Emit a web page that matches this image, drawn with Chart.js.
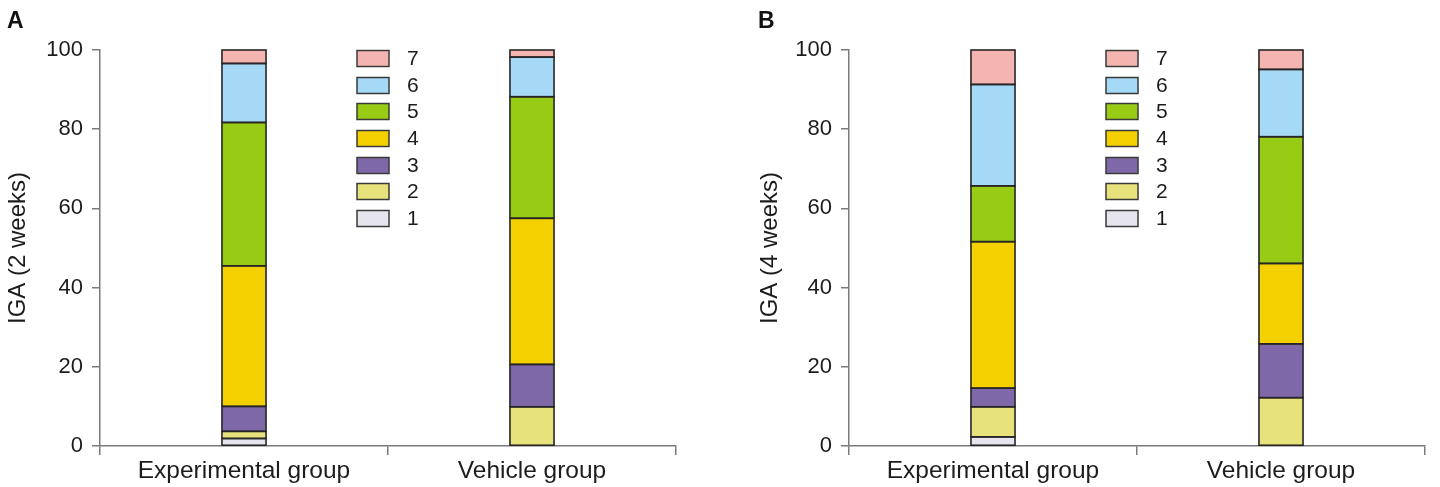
<!DOCTYPE html>
<html><head><meta charset="utf-8">
<script src="https://cdn.jsdelivr.net/npm/chart.js@4/dist/chart.umd.min.js"></script>
<style>
html,body{margin:0;padding:0;background:#fff;width:1440px;height:487px;overflow:hidden}
canvas{position:absolute;top:0}
#cA{left:0}
#cB{left:752px}
</style></head><body>
<canvas id="cA" width="700" height="487"></canvas>
<canvas id="cB" width="688" height="487"></canvas>
<script>
// ---- data ----
const categories = ['Experimental group', 'Vehicle group'];
const igaLevels = ['1', '2', '3', '4', '5', '6', '7'];
const yTicks = [0, 20, 40, 60, 80, 100];

// IGA at 2 weeks (percent of patients), [Experimental, Vehicle]
const week2Level1 = [1.9, 0];
const week2Level2 = [1.8, 9.9];
const week2Level3 = [6.3, 10.7];
const week2Level4 = [35.5, 36.9];
const week2Level5 = [36.2, 30.7];
const week2Level6 = [14.9, 10.0];
const week2Level7 = [3.4, 1.8];

// IGA at 4 weeks (percent of patients), [Experimental, Vehicle]
const week4Level1 = [2.3, 0];
const week4Level2 = [7.6, 12.2];
const week4Level3 = [4.7, 13.6];
const week4Level4 = [37.0, 20.3];
const week4Level5 = [14.1, 32.0];
const week4Level6 = [25.6, 17.0];
const week4Level7 = [8.7, 4.9];

const week2 = [week2Level1, week2Level2, week2Level3, week2Level4, week2Level5, week2Level6, week2Level7];
const week4 = [week4Level1, week4Level2, week4Level3, week4Level4, week4Level5, week4Level6, week4Level7];

// ---- styles ----
const levelColors = ['#E6E4EC', '#E8E27C', '#7F68A8', '#F4D000', '#98CB14', '#A6D9F5', '#F4B4B0'];
const FONT = '"Liberation Sans", Arial, Helvetica, sans-serif';
const TXT = '#1c1c1c';
const AXIS = '#7a7a7a';
const EDGE = '#262626';

// outlines every bar segment using the positions computed by Chart.js
const outlinePlugin = {
  id: 'segOutline',
  afterDatasetsDraw(chart) {
    const ctx = chart.ctx;
    ctx.save();
    ctx.lineWidth = 1.6;
    ctx.strokeStyle = EDGE;
    chart.data.datasets.forEach((d, i) => {
      const meta = chart.getDatasetMeta(i);
      meta.data.forEach(el => {
        const p = el.getProps(['x', 'y', 'base', 'width'], true);
        const h = p.base - p.y;
        if (Math.abs(h) < 0.5) return;
        ctx.strokeRect(p.x - p.width / 2, p.y, p.width, h);
      });
    });
    ctx.restore();
  }
};

const legendPlugin = {
  id: 'sideLegend',
  afterDraw(chart, args, opts) {
    const ctx = chart.ctx;
    const area = chart.chartArea;
    const ds = chart.data.datasets;
    ctx.save();
    const bx = area.left + 257, bw = 32, bh = 16, step = 26.67;
    ctx.font = '21px ' + FONT;
    ctx.textBaseline = 'middle';
    ctx.textAlign = 'left';
    for (let k = 0; k < ds.length; k++) {
      const d = ds[ds.length - 1 - k];
      const top = Math.round(area.top + k * step) + 0.5;
      ctx.fillStyle = d.backgroundColor;
      ctx.fillRect(bx, top, bw, bh);
      ctx.lineWidth = 1.5;
      ctx.strokeStyle = '#3a3a3a';
      ctx.strokeRect(bx, top, bw, bh);
      ctx.fillStyle = TXT;
      ctx.fillText(d.label, bx + 50, top + bh / 2 + 1);
    }
    // panel letter
    ctx.font = 'bold 23px ' + FONT;
    ctx.textBaseline = 'alphabetic';
    ctx.fillStyle = '#111';
    ctx.fillText(opts.letter, opts.letterX, 28);
    ctx.restore();
  }
};

function build(canvasId, series, title, letter, letterX, yWidth, padRight) {
  const datasets = series.map((vals, i) => ({
    label: igaLevels[i],
    data: vals,
    backgroundColor: levelColors[i],
    borderWidth: 0,
    categoryPercentage: 1,
    barPercentage: 0.153
  }));
  return new Chart(document.getElementById(canvasId), {
    type: 'bar',
    data: { labels: categories, datasets },
    plugins: [outlinePlugin, legendPlugin],
    options: {
      responsive: false,
      animation: false,
      layout: { padding: { top: 50, right: padRight, left: 0, bottom: 0 } },
      plugins: {
        legend: { display: false },
        tooltip: { enabled: false },
        title: { display: false },
        sideLegend: { letter, letterX }
      },
      scales: {
        x: {
          stacked: true,
          afterFit(s) { s.height = 41; },
          grid: { offset: true, drawOnChartArea: false, drawTicks: true, tickLength: 9, color: AXIS, lineWidth: 1.5 },
          border: { color: AXIS, width: 1.5 },
          ticks: { color: TXT, font: { family: FONT, size: 24.5 }, padding: 2, maxRotation: 0 }
        },
        y: {
          stacked: true,
          min: 0, max: 100,
          afterFit(s) { s.width = yWidth; },
          afterBuildTicks(s) { s.ticks = yTicks.map(v => ({ value: v })); },
          grid: { drawOnChartArea: false, drawTicks: true, tickLength: 8, color: AXIS, lineWidth: 1.5 },
          border: { color: AXIS, width: 1.5 },
          ticks: { color: TXT, font: { family: FONT, size: 22 }, padding: 9 },
          title: { display: true, text: title, color: TXT, font: { family: FONT, size: 24 }, padding: { top: 4, bottom: 4 } }
        }
      }
    }
  });
}

build('cA', week2, 'IGA (2 weeks)', 'A', 7, 100, 24);
build('cB', week4, 'IGA (4 weeks)', 'B', 6, 97, 15);
</script>
</body></html>
